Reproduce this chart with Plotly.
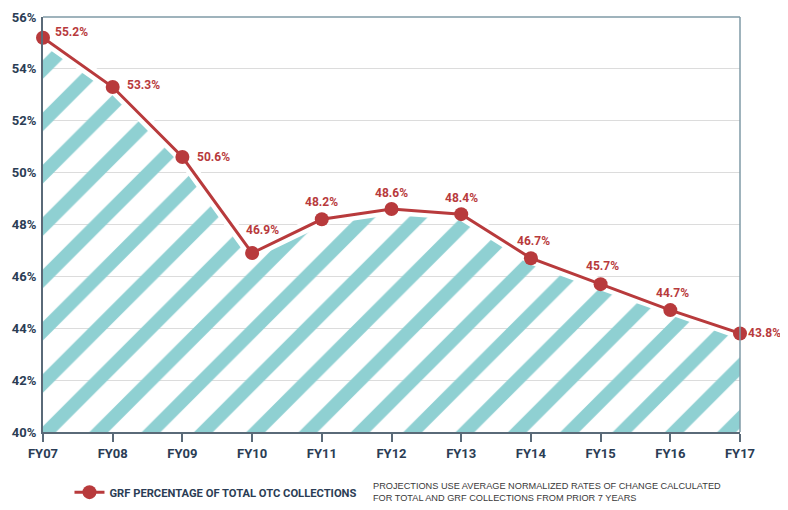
import plotly.graph_objects as go

years = ["FY07", "FY08", "FY09", "FY10", "FY11", "FY12", "FY13", "FY14", "FY15", "FY16", "FY17"]
grf_pct = [55.2, 53.3, 50.6, 46.9, 48.2, 48.6, 48.4, 46.7, 45.7, 44.7, 43.8]
y_ticks = [40, 42, 44, 46, 48, 50, 52, 54, 56]

# label placement styles (pixel offsets from each point)
label_xanchor = ["left", "left", "left", "center", "center", "center", "center",
                 "center", "center", "center", "left"]
label_xshift = [10, 12, 13, 10, 0, 0, 0, 3, 2, 2, 6]
label_yshift = [6, 2, 0, 23, 17, 16, 16, 17, 18, 17, 0]

NAVY = "#2b3d55"
RED = "#b83a3c"
TEAL = "#8fd0d2"
FONT = "Roboto, Liberation Sans, sans-serif"

fig = go.Figure()

fig.add_trace(go.Scatter(
    x=years, y=grf_pct, mode="none", fill="tozeroy",
    fillcolor="rgba(0,0,0,0)",
    fillpattern=dict(shape="/", size=37, solidity=0.36, fgcolor=TEAL, fgopacity=1,
                     bgcolor="rgba(255,255,255,0)"),
    showlegend=False, hoverinfo="skip",
))

# white halo under the line to leave a small gap above the stripes
fig.add_trace(go.Scatter(
    x=years, y=grf_pct, mode="lines",
    line=dict(color="white", width=12),
    showlegend=False, hoverinfo="skip",
))

fig.add_trace(go.Scatter(
    x=years, y=grf_pct, mode="lines+markers",
    name="GRF PERCENTAGE OF TOTAL OTC COLLECTIONS",
    line=dict(color=RED, width=3),
    marker=dict(color=RED, size=14),
    cliponaxis=False,
))

annotations = []
for i, (yr, v) in enumerate(zip(years, grf_pct)):
    annotations.append(dict(
        x=yr, y=v, xref="x", yref="y", text=f"{v:.1f}%", showarrow=False,
        xanchor=label_xanchor[i], yanchor="middle",
        xshift=label_xshift[i], yshift=label_yshift[i],
        font=dict(family=FONT, size=12, color=RED, weight="bold"),
    ))

annotations.append(dict(
    xref="paper", yref="paper", x=0.471, y=-0.145, xanchor="left", yanchor="middle",
    align="left", showarrow=False,
    text="PROJECTIONS USE AVERAGE NORMALIZED RATES OF CHANGE CALCULATED<br>FOR TOTAL AND GRF COLLECTIONS FROM PRIOR 7 YEARS",
    font=dict(family="Liberation Sans, sans-serif", size=9.2, color="#3a3a3a"),
))

fig.update_layout(
    width=780, height=494,
    margin=dict(l=35, r=48, t=9, b=70, autoexpand=False),
    paper_bgcolor="white", plot_bgcolor="white",
    showlegend=True,
    legend=dict(orientation="h", x=0.038, y=-0.145, xanchor="left", yanchor="middle",
                font=dict(family=FONT, size=11.2, color=NAVY, weight="bold"),
                itemwidth=30),
    xaxis=dict(
        type="category", range=[0, 10], automargin=False,
        showgrid=False, showline=True, linecolor="#5a6a78", linewidth=2,
        mirror=False, ticks="outside", ticklen=8, tickcolor="#5a6a78", tickwidth=2,
        tickfont=dict(family=FONT, size=13, color=NAVY, weight="bold"),
        zeroline=False,
    ),
    yaxis=dict(
        range=[40, 56], tickvals=y_ticks, ticktext=[f"{t}%" for t in y_ticks],
        automargin=False, ticklabelstandoff=2,
        showgrid=True, gridcolor="#dcdcdc", gridwidth=1,
        showline=True, linecolor="#5a6a78", linewidth=2,
        ticks="", tickfont=dict(family=FONT, size=13, color=NAVY, weight="bold"),
        zeroline=False,
    ),
    shapes=[
        dict(type="line", xref="paper", yref="paper", x0=0, x1=1, y0=1, y1=1,
             line=dict(color="#7f9aa6", width=1.5)),
        dict(type="line", xref="paper", yref="paper", x0=1, x1=1, y0=0, y1=1,
             line=dict(color="#7f9aa6", width=1.5)),
    ],
    annotations=annotations,
)

fig.write_html("out.html")
